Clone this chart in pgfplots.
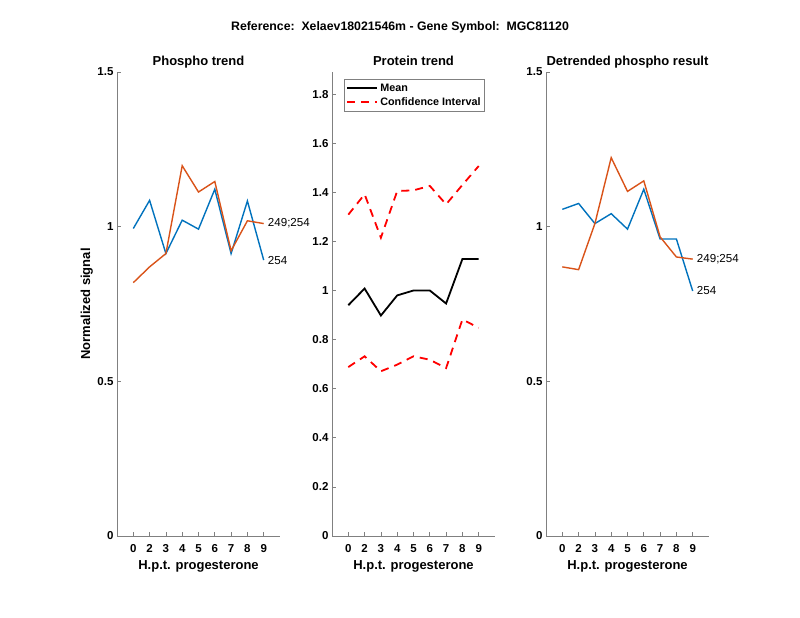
\documentclass[border=0pt]{standalone}
\usepackage{fontspec}
\setmainfont{Liberation Sans}
\usepackage{pgfplots}
\pgfplotsset{compat=1.18}

\definecolor{mblue}{rgb}{0,0.447,0.741}
\definecolor{morange}{rgb}{0.85,0.325,0.098}
\definecolor{axgray}{RGB}{128,128,128}

\tikzset{lab/.style={anchor=west, font=\fontsize{11.6}{13}\selectfont, inner sep=0pt, xshift=4pt}}

\pgfplotsset{
  panel/.style={
    scale only axis, width=163pt, height=464pt, anchor=south west,
    xmin=0, xmax=10, ymin=0,
    axis x line*=bottom, axis y line*=left,
    axis line style={axgray, line width=0.7pt, -},
    tick style={axgray, line width=0.7pt},
    tick align=inside, major tick length=3.5pt,
    xtick={1,...,9}, xticklabels={0,2,3,4,5,6,7,8,9},
    tick label style={font=\fontsize{11.5}{13}\selectfont\bfseries, black},
    xticklabel style={anchor=north, inner sep=0pt, yshift=-8pt},
    /pgf/number format/assume math mode=true,
    xlabel={H.p.t. progesterone},
    label style={font=\fontsize{13}{15}\selectfont\bfseries},
    xlabel style={at={(axis description cs:0.5,-0.0724)}, anchor=base},
    title style={font=\fontsize{13}{15}\selectfont\bfseries,
      at={(axis description cs:0.5,1.014)}, anchor=base, yshift=-6pt},
    clip=false,
  },
  ph/.style={mblue, line width=1.4pt},
  po/.style={morange, line width=1.4pt},
}

\begin{document}
\begin{tikzpicture}[x=1pt,y=1pt]
\path (0,0) rectangle (800,618);

\node[font=\fontsize{12.3}{14}\selectfont\bfseries, anchor=base] at (400,587.3)
  {Reference:\ \ Xelaev18021546m - Gene Symbol:\ \ MGC81120};

% Phospho trend
\begin{axis}[panel, at={(117pt,82pt)}, ymax=1.5,
  ytick={0,0.5,1,1.5}, yticklabels={0,0.5,1,1.5},
  ylabel={Normalized signal},
  ylabel style={at={(axis description cs:-0.1656,0.5)}, anchor=base},
  title={Phospho trend}]
\addplot[ph] coordinates {(1,0.994) (2,1.085) (3,0.913) (4,1.021) (5,0.992) (6,1.121) (7,0.913) (8,1.083) (9,0.892)};
\addplot[po] coordinates {(1,0.819) (2,0.870) (3,0.913) (4,1.197) (5,1.112) (6,1.146) (7,0.922) (8,1.019) (9,1.010)};
\node[lab] at (axis cs:9,1.010) {249;254};
\node[lab] at (axis cs:9,0.892) {254};
\end{axis}

% Protein trend
\begin{axis}[panel, at={(332pt,82pt)}, ymax=1.89,
  ytick={0,0.2,...,1.8}, yticklabels={0,0.2,0.4,0.6,0.8,1,1.2,1.4,1.6,1.8},
  title={Protein trend},
  legend style={at={(axis description cs:0.0755,0.984)}, anchor=north west, draw=axgray,
    font=\fontsize{10.8}{13}\selectfont\bfseries, inner sep=2pt, row sep=1pt},
  legend cell align=left,
  legend image code/.code={\draw[#1] (0pt,0pt) -- (30pt,0pt);}]
\addplot[black, line width=1.8pt] coordinates {(1,0.940) (2,1.008) (3,0.898) (4,0.980) (5,1.000) (6,1.000) (7,0.947) (8,1.128) (9,1.128)};
\addlegendentry{Mean}
\addplot[red, line width=1.8pt, dash pattern=on 8pt off 6pt] coordinates {(1,1.309) (2,1.392) (3,1.215) (4,1.405) (5,1.408) (6,1.426) (7,1.351) (8,1.430) (9,1.507)};
\addlegendentry{Confidence Interval}
\addplot[red, line width=1.8pt, dash pattern=on 8pt off 6pt, forget plot] coordinates {(1,0.688) (2,0.732) (3,0.671) (4,0.698) (5,0.732) (6,0.718) (7,0.684) (8,0.882) (9,0.848)};
\end{axis}

% Detrended phospho result
\begin{axis}[panel, at={(546pt,82pt)}, ymax=1.5,
  ytick={0,0.5,1,1.5}, yticklabels={0,0.5,1,1.5},
  title={Detrended phospho result}]
\addplot[ph] coordinates {(1,1.056) (2,1.075) (3,1.010) (4,1.042) (5,0.992) (6,1.121) (7,0.960) (8,0.960) (9,0.792)};
\addplot[po] coordinates {(1,0.870) (2,0.861) (3,1.010) (4,1.223) (5,1.114) (6,1.148) (7,0.967) (8,0.902) (9,0.895)};
\node[lab] at (axis cs:9,0.895) {249;254};
\node[lab] at (axis cs:9,0.792) {254};
\end{axis}
\end{tikzpicture}
\end{document}
